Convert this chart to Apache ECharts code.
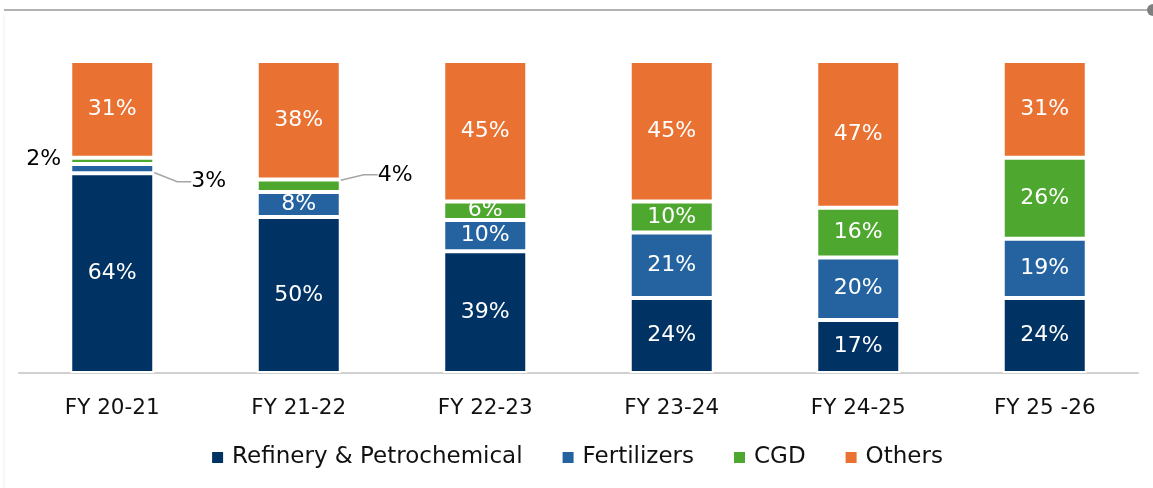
<!DOCTYPE html>
<html>
<head>
<meta charset="utf-8">
<script src="https://cdn.jsdelivr.net/npm/echarts@6/dist/echarts.min.js"></script>
<style>
html,body{margin:0;padding:0;background:#fff;}
#c{width:1153px;height:488px;}
</style>
</head>
<body>
<div id="c"></div>
<script>
const categories = ['FY 20-21', 'FY 21-22', 'FY 22-23', 'FY 23-24', 'FY 24-25', 'FY 25 -26'];
const refinery = [64, 50, 39, 24, 17, 24];
const fertilizers = [3, 8, 10, 21, 20, 19];
const cgd = [2, 4, 6, 10, 16, 26];
const others = [31, 38, 45, 45, 47, 31];
const seriesNames = ['Refinery & Petrochemical', 'Fertilizers', 'CGD', 'Others'];

const colors = ['#003263', '#2563A0', '#4EA72E', '#E97132'];
const FONT = '"DejaVu Sans", "Liberation Sans", Arial, sans-serif';

// outside-label settings: key = seriesIndex-dataIndex
const outside = {
  '1-0': { side: 'right', dy: 13, line: true },
  '2-0': { side: 'left', dy: -2, line: false },
  '2-1': { side: 'right', dy: -11, line: true }
};

function buildData(values, si) {
  return values.map((v, di) => {
    const o = outside[si + '-' + di];
    if (!o) return v;
    return {
      value: v,
      label: { position: o.side, color: '#000', distance: 18 },
      labelLine: { show: o.line, length2: 14, lineStyle: { color: '#A6A6A6', width: 1.5 } }
    };
  });
}

const allValues = [refinery, fertilizers, cgd, others];
const chart = echarts.init(document.getElementById('c'), null, { renderer: 'canvas' });

const series = allValues.map((vals, si) => ({
  name: seriesNames[si],
  type: 'bar',
  stack: 'total',
  barWidth: 84,
  data: buildData(vals, si),
  itemStyle: { color: colors[si], borderColor: '#fff', borderWidth: 2 },
  label: {
    show: true,
    position: 'inside',
    color: '#fff',
    fontSize: 22,
    fontFamily: FONT,
    formatter: p => p.value + '%'
  },
  labelLayout: function (params) {
    const o = outside[params.seriesIndex + '-' + params.dataIndex];
    if (!o) return {};
    const r = params.rect;
    const cy = r.y + r.height / 2;
    if (o.side === 'left') {
      return { x: r.x - 9, y: cy + o.dy, align: 'right', verticalAlign: 'middle' };
    }
    const ex = r.x + r.width;
    return { x: ex + 37, y: cy + o.dy, align: 'left', verticalAlign: 'middle' };
  }
}));

chart.setOption({
  animation: false,
  backgroundColor: '#fff',
  textStyle: { fontFamily: FONT },
  grid: { left: 19, right: 15, top: 61, bottom: 115, containLabel: false },
  legend: {
    data: seriesNames,
    top: 441,
    left: 'center',
    icon: 'rect',
    itemWidth: 13,
    itemHeight: 13,
    itemGap: 38,
    textStyle: { fontSize: 23, color: '#111', fontFamily: FONT, padding: [0, 0, 0, 3] }
  },
  xAxis: {
    type: 'category',
    data: categories,
    axisLine: { show: true, lineStyle: { color: '#D0D0D0', width: 2 } },
    axisTick: { show: false },
    axisLabel: { fontSize: 21.5, color: '#111', margin: 24, fontFamily: FONT }
  },
  yAxis: {
    type: 'value', min: 0, max: 100, show: false,
    splitLine: { show: false }
  },
  graphic: [
    { type: 'line', shape: { x1: 4, y1: 10, x2: 1150, y2: 10 }, style: { stroke: '#9A9A9A', lineWidth: 1.5 }, silent: true },
    { type: 'circle', shape: { cx: 1153, cy: 10, r: 6 }, style: { fill: '#7F7F7F' }, silent: true },
    { type: 'line', shape: { x1: 4, y1: 16, x2: 4, y2: 488 }, style: { stroke: '#F0F0F0', lineWidth: 1 }, silent: true }
  ],
  series: series
});
</script>
</body>
</html>
